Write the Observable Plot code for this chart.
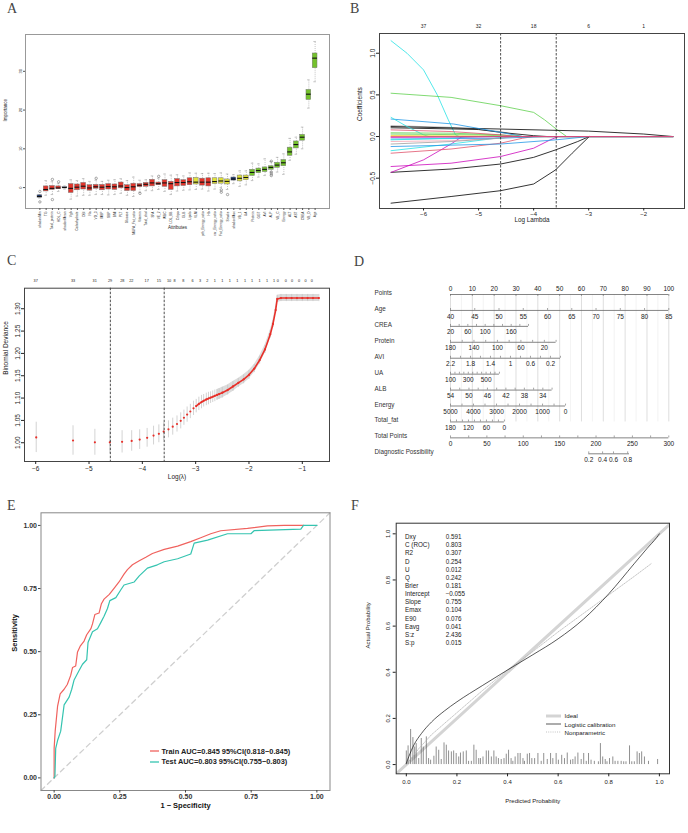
<!DOCTYPE html>
<html><head><meta charset="utf-8">
<script src="https://cdn.jsdelivr.net/npm/d3@7"></script>
<script src="https://cdn.jsdelivr.net/npm/@observablehq/plot@0.6"></script>
<style>
body{margin:0;width:688px;height:833px;position:relative;background:#fff;font-family:"Liberation Sans",Arial,sans-serif;overflow:hidden}
.p{position:absolute}
.lt{position:absolute;font-family:"Liberation Serif",serif;font-size:14px;color:#444;line-height:1}
.tbl{position:absolute;font-size:6.3px;color:#222;line-height:8.15px}
.tbl div{height:8.15px;white-space:nowrap}
.leg{position:absolute;white-space:nowrap}
</style></head><body>
<script>
// ---------- Panel A data (Boruta importance) ----------
const attrs = ["shadowMin","TG","Total_protein","HDL_C","shadowMean","Vgb","Carbohydrate","DBI","Na","VD_3","MBP","SBP","BMI","PLT","Glucose","MUFA_Fat_ratio","Vitamin","Total_chol","SFA","VE_2","WBC","LDL_BB","Crhpo","GLB","Lipids","VLM","pth_Energy_ratio","Hb","car_Energy_ratio","Fat_Energy_ratio","Smoke","shadowMax","VB_1","UA","Protein","GGT","AVI","ALP","VB_C","Energy","ALT","AST","CREA","VB_D","Age"];
const aDec = ["Shadow","Rejected","Rejected","Rejected","Shadow","Rejected","Rejected","Rejected","Rejected","Rejected","Rejected","Rejected","Rejected","Rejected","Rejected","Rejected","Rejected","Rejected","Rejected","Rejected","Rejected","Rejected","Rejected","Rejected","Rejected","Tentative","Rejected","Rejected","Tentative","Tentative","Tentative","Shadow","Tentative","Tentative","Confirmed","Confirmed","Confirmed","Confirmed","Confirmed","Confirmed","Confirmed","Confirmed","Confirmed","Confirmed","Confirmed"];
const aMed = [-2.3,-0.5,-0.2,-0.1,0,-0.2,0.1,0.35,-0.1,0.2,0.1,0.25,0.2,0.4,0,0.2,0.6,0.85,1.2,1.0,1.2,1.0,1.3,1.3,1.5,1.4,1.4,1.4,1.55,1.7,1.6,2.2,2.4,2.6,3.9,4.4,4.7,5.2,5.8,6.4,9.2,11.1,13.0,24.1,33.4];
const aQ1 = [-2.6,-1.0,-0.6,-0.4,-0.1,-1.4,-0.7,-0.5,-0.8,-0.3,-0.7,-0.5,-0.6,-0.2,-0.9,-0.9,0.1,0.2,0.3,0.6,0.2,-0.6,0.3,0.4,0.6,0.8,0.5,0.3,0.9,1.0,0.8,1.8,1.6,1.9,3.0,3.7,4.0,4.6,5.1,5.5,8.2,10.1,12.1,22.6,30.8];
const aQ3 = [-2.0,0.3,0.4,0.3,0.1,0.9,0.8,1.2,0.6,0.7,0.7,0.9,0.8,1.3,0.6,1.0,0.9,1.2,2.0,1.3,1.9,1.5,2.2,1.9,2.4,2.5,2.3,2.4,2.4,2.4,2.1,2.6,3.1,3.1,4.6,4.9,5.2,5.5,6.4,7.1,10.3,11.9,13.6,25.2,34.6];
const aLo = [-2.7,-2.0,-1.8,-1.0,-0.4,-3.0,-2.2,-2.0,-2.0,-1.8,-1.8,-1.9,-1.8,-1.5,-2.0,-2.3,-1.2,-0.8,-0.8,-0.5,-1.0,-1.8,-0.9,-0.7,-0.6,-0.5,-0.4,-0.9,-0.4,0,-0.5,1.0,0.3,0.7,1.8,2.7,3.1,4.0,4.0,3.4,7.0,8.6,10.0,20.5,27.3];
const aHi = [-1.8,1.8,1.5,1.0,0.4,2.0,1.8,2.3,1.6,1.9,1.6,1.9,2.0,2.3,1.8,2.7,1.9,2.0,3.0,2.4,3.5,3.2,3.3,3.0,3.8,3.7,3.6,3.7,3.6,3.8,3.5,3.3,4.3,4.3,6.3,6.1,7.4,6.7,7.8,8.7,12.7,13.0,15.6,27.8,37.7];
const aOutIdx = [1,1,3,3,4,10,17,20,30,30,31,38,38,38,38];
const aOutVal = [-1.0,-3.7,2.1,-3.1,1.5,2.4,-1.5,2.9,-0.6,-1.2,-1.8,6.8,4.0,3.5,3.1];
const decColor = {Confirmed:"#74c22c",Tentative:"#e0e23a",Rejected:"#e2352c",Shadow:"#1e3b78"};

// ---------- Panel B data (lasso coefficient paths) ----------
const bPaths = [
 {col:"#9E9E9E", pts:[[-6.59,0.13],[-5.5,0.11],[-4.6,0.06],[-4.2,0],[-1.47,0]]},
 {col:"#28E2E5", pts:[[-6.59,1.15],[-6.3,1.0],[-6.0,0.8],[-5.75,0.5],[-5.55,0.2],[-5.42,0.02],[-5.35,0],[-1.47,0]]},
 {col:"#61D04F", pts:[[-6.59,0.52],[-5.5,0.47],[-4.6,0.37],[-4.0,0.29],[-3.8,0.2],[-3.59,0.09],[-3.4,0],[-1.47,0]]},
 {col:"#000000", pts:[[-6.59,0.12],[-4.6,0.09],[-3.0,0.065],[-2.0,0.03],[-1.47,0]]},
 {col:"#000000", pts:[[-6.59,0.105],[-5.0,0.085],[-4.6,0.05],[-4.0,0.01],[-3.75,0],[-1.47,0]]},
 {col:"#2297E6", pts:[[-6.59,0.21],[-5.45,0.15],[-4.6,0.05],[-4.2,0],[-1.47,0]]},
 {col:"#28E2E5", pts:[[-6.59,0.23],[-6.3,0.12],[-6.0,0.02],[-5.9,0],[-1.47,0]]},
 {col:"#000000", pts:[[-6.59,-0.8],[-5.5,-0.72],[-4.6,-0.65],[-4.0,-0.57],[-3.6,-0.4],[-3.3,-0.2],[-2.99,0],[-1.47,0]]},
 {col:"#000000", pts:[[-6.59,-0.43],[-5.5,-0.39],[-4.6,-0.33],[-4.0,-0.25],[-3.6,-0.16],[-3.2,-0.06],[-2.99,0],[-1.47,0]]},
 {col:"#CD0BBC", pts:[[-6.59,-0.36],[-5.5,-0.32],[-4.6,-0.24],[-4.0,-0.14],[-3.7,-0.04],[-3.55,0],[-1.47,0]]},
 {col:"#CD0BBC", pts:[[-6.59,-0.43],[-6.0,-0.28],[-5.5,-0.09],[-5.3,0],[-1.47,0]]},
 {col:"#DF536B", pts:[[-6.59,-0.2],[-5.5,-0.15],[-4.6,-0.08],[-4.2,-0.02],[-4.0,0],[-1.47,0]]},
 {col:"#28E2E5", pts:[[-6.59,-0.17],[-5.5,-0.09],[-4.8,-0.03],[-4.5,0],[-1.47,0]]},
 {col:"#2297E6", pts:[[-6.59,-0.12],[-4.6,-0.09],[-3.6,-0.04],[-3.0,0],[-1.47,0]]},
 {col:"#61D04F", pts:[[-6.59,0.045],[-5.5,0.04],[-4.6,0.02],[-4.2,0],[-1.47,0]]},
 {col:"#61D04F", pts:[[-6.59,0.03],[-5.0,0.02],[-4.3,0],[-1.47,0]]},
 {col:"#F4A6B4", pts:[[-6.59,-0.06],[-5.5,-0.05],[-4.6,-0.02],[-4.3,0],[-1.47,0]]},
 {col:"#DF536B", pts:[[-6.59,0.08],[-5.5,0.06],[-4.6,0.02],[-4.3,0],[-1.47,0]]},
 {col:"#2297E6", pts:[[-6.59,-0.03],[-4.6,-0.02],[-3.8,0],[-1.47,0]]},
 {col:"#9E9E9E", pts:[[-6.59,-0.09],[-5.5,-0.06],[-4.6,-0.02],[-4.4,0],[-1.47,0]]},
 {col:"#F5C710", pts:[[-6.59,0.01],[-5.0,0.005],[-4.6,0],[-1.47,0]]},
 {col:"#28E2E5", pts:[[-6.59,-0.04],[-5.5,-0.02],[-5.0,0],[-1.47,0]]},
 {col:"#CD0BBC", pts:[[-6.59,-0.01],[-5.0,-0.005],[-4.6,0],[-1.47,0]]},
 {col:"#DF536B", pts:[[-6.59,0],[-1.47,0]]}
];
const bTopX = [-6,-5,-4,-3,-2];
const bTopN = ["37","32","18","6","1"];
const lambdaLines = [-4.6,-3.59];

// ---------- Panel C data (cv binomial deviance) ----------
const cvX = [-5.99,-5.30,-4.89,-4.61,-4.38,-4.20,-4.05,-3.91,-3.79,-3.69,-3.60,-3.51,-3.43,-3.35,-3.28,-3.22,-3.16,-3.10,-3.04,-2.99,-2.94,-2.89,-2.85,-2.80,-2.76,-2.72,-2.68,-2.64,-2.60,-2.56,-2.50,-2.40,-2.30,-2.20,-2.10,-2.00,-1.90,-1.80,-1.70,-1.60,-1.55,-1.50,-1.47,-1.40,-1.30,-1.20,-1.10,-1.00,-0.90,-0.80,-0.69];
const cvM = [1.012,1.005,1.001,1.001,1.002,1.004,1.007,1.011,1.016,1.020,1.025,1.030,1.036,1.042,1.049,1.056,1.063,1.070,1.077,1.082,1.087,1.091,1.094,1.097,1.099,1.101,1.103,1.105,1.107,1.109,1.112,1.118,1.126,1.134,1.142,1.152,1.166,1.185,1.209,1.243,1.266,1.297,1.322,1.324,1.324,1.324,1.324,1.324,1.324,1.324,1.324];
const cvS = [0.034,0.033,0.029,0.026,0.025,0.023,0.022,0.021,0.021,0.020,0.020,0.019,0.019,0.018,0.018,0.017,0.017,0.016,0.016,0.015,0.015,0.015,0.014,0.014,0.014,0.013,0.013,0.013,0.012,0.012,0.012,0.011,0.011,0.010,0.010,0.010,0.009,0.009,0.009,0.009,0.008,0.008,0.008,0.008,0.008,0.008,0.008,0.008,0.008,0.008,0.008];
const cTopX = [-6,-5.3,-4.894,-4.606,-4.375,-4.206,-3.919,-3.688,-3.5,-3.394,-3.231,-3.056,-2.919,-2.78,-2.64,-2.5,-2.36,-2.22,-2.075,-1.94,-1.8,-1.66,-1.53,-1.46,-1.31,-1.19,-1.06,-0.94,-0.82];
const cTopN = ["37","33","31","29","28","22","17","15","10","8","8","6","3","2","1","1","1","1","1","1","1","1","1","0","0","0","0","0","0"];

// ---------- Panel D data (nomogram) ----------
const nomo = [
 {name:"Points", ticks:[0,10,20,30,40,50,60,70,80,90,100], labels:[0,10,20,30,40,50,60,70,80,90,100], v0:0,p0:0,v1:100,p1:100, above:true},
 {name:"Age", ticks:[40,45,50,55,60,65,70,75,80,85], labels:[40,45,50,55,60,65,70,75,80,85], v0:40,p0:0,v1:85,p1:100},
 {name:"CREA", ticks:[20,40,60,80,100,120,140,160,180,200], labels:[20,60,100,160], v0:20,p0:0,v1:160,p1:27.8},
 {name:"Protein", ticks:[180,160,140,120,100,80,60,40,20,0], labels:[180,140,100,60,20], v0:180,p0:0,v1:20,p1:43.0},
 {name:"AVI", ticks:[2.2,2,1.8,1.6,1.4,1.2,1,0.8,0.6,0.4,0.2,0], labels:[2.2,1.8,1.4,1,0.6,0.2], v0:2.2,p0:0,v1:0.2,p1:45.8},
 {name:"UA", ticks:[100,150,200,250,300,350,400,450,500,550,600,650], labels:[100,300,500], v0:100,p0:0,v1:500,p1:16.3},
 {name:"ALB", ticks:[54,52,50,48,46,44,42,40,38,36,34,32], labels:[54,50,46,42,38,34], v0:54,p0:0,v1:34,p1:42.3},
 {name:"Energy", ticks:[5000,4500,4000,3500,3000,2500,2000,1500,1000,500,0], labels:[5000,4000,3000,2000,1000,0], v0:5000,p0:0,v1:0,p1:52.7},
 {name:"Total_fat", ticks:[180,160,140,120,100,80,60,40,20,0], labels:[180,120,60,0], v0:180,p0:0,v1:0,p1:24.7},
 {name:"Total Points", ticks:[0,25,50,75,100,125,150,175,200,225,250,275,300], labels:[0,50,100,150,200,250,300], v0:0,p0:0,v1:300,p1:100}
];
const diagProb = ["0.2","0.4","0.6","0.8"];
const diagTotal = [190,209,224,243.5];
const diagEnd = [190,246];

// ---------- Panel E data (ROC) ----------
const trainFPR = [0,0,0.004,0.013,0.023,0.038,0.05,0.063,0.07,0.082,0.089,0.1,0.114,0.124,0.14,0.146,0.155,0.171,0.18,0.19,0.21,0.228,0.247,0.266,0.279,0.298,0.324,0.349,0.374,0.419,0.47,0.52,0.558,0.596,0.634,0.736,0.812,0.876,0.95];
const trainTPR = [0,0.117,0.185,0.283,0.333,0.351,0.37,0.406,0.437,0.443,0.499,0.523,0.542,0.567,0.591,0.61,0.647,0.653,0.69,0.708,0.727,0.751,0.776,0.807,0.825,0.844,0.86,0.874,0.889,0.905,0.918,0.936,0.951,0.967,0.979,0.988,0.998,1,1];
const testFPR = [0,0.003,0.006,0.013,0.025,0.038,0.057,0.067,0.076,0.095,0.108,0.124,0.129,0.146,0.165,0.178,0.19,0.203,0.212,0.235,0.254,0.266,0.305,0.324,0.355,0.393,0.419,0.47,0.52,0.533,0.584,0.66,0.749,0.761,0.939,0.949,1];
const testTPR = [0,0.006,0.117,0.148,0.185,0.289,0.32,0.351,0.388,0.425,0.45,0.468,0.536,0.579,0.591,0.616,0.64,0.671,0.702,0.714,0.745,0.764,0.776,0.8,0.831,0.844,0.856,0.868,0.887,0.93,0.942,0.967,0.967,0.979,0.985,1.0,1.0];
const rocNames = ["Train AUC=0.845 95%CI(0.818\u22120.845)","Test AUC=0.803 95%CI(0.755\u22120.803)"];
const rocColors = ["#f0625e","#35c4b0"];

// ---------- Panel F data (calibration) ----------
const calStatNames = ["Dxy","C (ROC)","R2","D","U","Q","Brier","Intercept","Slope","Emax","E90","Eavg","S:z","S:p"];
const calStatVals = ["0.591","0.803","0.307","0.254","0.012","0.242","0.181","\u22120.055","0.755","0.104","0.076","0.041","2.436","0.015"];
const logX = [0,0.01,0.03,0.06,0.1,0.15,0.2,0.3,0.4,0.5,0.6,0.7,0.8,0.9,0.95,0.99,1.0];
const logY = [0.005,0.035,0.085,0.135,0.185,0.232,0.272,0.342,0.41,0.476,0.545,0.63,0.74,0.87,0.935,0.985,1.0];
const npX = [0,0.05,0.1,0.2,0.3,0.4,0.5,0.6,0.7,0.8,0.9,0.967];
const npY = [0.0,0.07,0.13,0.225,0.32,0.41,0.49,0.575,0.655,0.735,0.815,0.87];
const spikeX = [0,0.007,0.017,0.026,0.033,0.039,0.049,0.059,0.067,0.079,0.088,0.096,0.109,0.118,0.128,0.138,0.149,0.158,0.167,0.178,0.187,0.197,0.207,0.214,0.225,0.237,0.246,0.257,0.267,0.276,0.286,0.293,0.303,0.316,0.325,0.336,0.346,0.355,0.364,0.375,0.386,0.395,0.404,0.414,0.421,0.43,0.441,0.45,0.461,0.467,0.478,0.487,0.496,0.507,0.52,0.533,0.543,0.557,0.57,0.579,0.592,0.601,0.614,0.625,0.636,0.649,0.658,0.667,0.678,0.691,0.701,0.711,0.72,0.73,0.743,0.759,0.767,0.776,0.786,0.793,0.803,0.816,0.825,0.836,0.849,0.859,0.868,0.882,0.891,0.901,0.912,0.921,0.93,0.941,0.957,0.993];
const spikeH = [0.059,0.081,0.152,0.117,0.076,0.091,0.026,0.113,0.076,0.12,0.026,0.019,0.036,0.076,0.062,0.022,0.094,0.084,0.059,0.055,0.059,0.048,0.033,0.05,0.055,0.059,0.014,0.014,0.084,0.062,0.026,0.026,0.033,0.059,0.059,0.033,0.059,0.033,0.026,0.022,0.026,0.045,0.062,0.026,0.014,0.033,0.048,0.048,0.026,0.014,0.045,0.048,0.026,0.026,0.048,0.014,0.048,0.022,0.048,0.026,0.048,0.019,0.04,0.026,0.05,0.019,0.022,0.033,0.05,0.022,0.048,0.014,0.048,0.019,0.014,0.012,0.091,0.033,0.022,0.012,0.026,0.033,0.014,0.014,0.014,0.012,0.012,0.081,0.012,0.012,0.055,0.048,0.055,0.033,0.014,0.022];
const calLegend = ["Ideal","Logistic calibration","Nonparametric"];

// ---------- helpers ----------
function place(node, left, top) {
  const d = document.createElement("div");
  d.className = "p"; d.style.left = left + "px"; d.style.top = top + "px";
  d.appendChild(node); document.body.appendChild(d); return d;
}
function html(cls, left, top, inner) {
  const d = document.createElement("div"); d.className = cls;
  d.style.left = left + "px"; d.style.top = top + "px"; d.innerHTML = inner;
  document.body.appendChild(d); return d;
}
const baseStyle = {fontFamily: "Liberation Sans, Arial, sans-serif", background: "none", color: "#222", overflow: "visible"};
const minus = d => (d < 0 ? "\u2212" : "") + Math.abs(d);

// ---------- Panel A ----------
const aRows = attrs.map((n, k) => ({i: k + 1, n, med: aMed[k], q1: aQ1[k], q3: aQ3[k], lo: aLo[k], hi: aHi[k], c: decColor[aDec[k]]}));
const aOut = aOutIdx.map((i, k) => ({i, v: aOutVal[k]}));
place(Plot.plot({
  width: 344, height: 240, marginLeft: 25, marginRight: 15, marginTop: 34, marginBottom: 32,
  x: {domain: [-1.3, 47.3], label: null}, y: {domain: [-5.4, 39.5], label: null},
  color: {type: "identity"},
  style: {...baseStyle, fontSize: "4px"},
  marks: [
    Plot.ruleX(aRows, {x: "i", y1: "q3", y2: "hi", stroke: "#888", strokeWidth: 0.5, strokeDasharray: "1,1"}),
    Plot.ruleX(aRows, {x: "i", y1: "lo", y2: "q1", stroke: "#888", strokeWidth: 0.5, strokeDasharray: "1,1"}),
    Plot.ruleY(aRows, {y: "hi", x1: d => d.i - 0.2, x2: d => d.i + 0.2, stroke: "#888", strokeWidth: 0.5}),
    Plot.ruleY(aRows, {y: "lo", x1: d => d.i - 0.2, x2: d => d.i + 0.2, stroke: "#888", strokeWidth: 0.5}),
    Plot.rect(aRows, {x1: d => d.i - 0.38, x2: d => d.i + 0.38, y1: "q1", y2: "q3", fill: "c", stroke: "#777", strokeWidth: 0.5}),
    Plot.ruleY(aRows, {y: "med", x1: d => d.i - 0.38, x2: d => d.i + 0.38, stroke: "#111", strokeWidth: 1.1}),
    Plot.dot(aOut, {x: "i", y: "v", r: 1.2, stroke: "#555", strokeWidth: 0.5}),
    Plot.frame({stroke: "#999"}),
    Plot.axisY({ticks: [0, 10, 20, 30], tickSize: 2, tickPadding: 2, tickRotate: -90, fontSize: 4, stroke: "#555"}),
    Plot.axisX({ticks: attrs.map((n, k) => k + 1), tickFormat: i => attrs[i - 1], tickSize: 2, tickPadding: 1, tickRotate: -90, fontSize: 3.2, stroke: "#555"}),
    Plot.text(["Attributes"], {frameAnchor: "bottom", dy: 20, fontSize: 4.5}),
    Plot.text(["Importance"], {frameAnchor: "left", dx: -20, rotate: -90, fontSize: 4.5})
  ]
}), 0, 0);

// ---------- Panel B ----------
const bLong = bPaths.flatMap((p, k) => p.pts.map(([x, y]) => ({k, x, y, c: p.col})));
place(Plot.plot({
  width: 344, height: 240, marginLeft: 35, marginRight: 4, marginTop: 33, marginBottom: 32,
  x: {domain: [-6.8, -1.26], label: null}, y: {domain: [-0.864, 1.237], label: null},
  color: {type: "identity"},
  style: {...baseStyle, fontSize: "6px"},
  marks: [
    Plot.line(bLong, {x: "x", y: "y", z: "k", stroke: "c", strokeWidth: 0.8}),
    Plot.ruleX(lambdaLines, {stroke: "#222", strokeWidth: 0.8, strokeDasharray: "2.5,1.5"}),
    Plot.frame({stroke: "#444"}),
    Plot.axisX({ticks: bTopX, tickSize: 2.5, tickPadding: 1, fontSize: 6, tickFormat: minus}),
    Plot.axisX({anchor: "top", ticks: bTopX, tickSize: 0, tickPadding: 6, fontSize: 5, tickFormat: d => bTopN[bTopX.indexOf(d)]}),
    Plot.axisY({ticks: [-0.5, 0, 0.5, 1.0], tickSize: 3, tickPadding: 2, tickRotate: -90, fontSize: 6.5, tickFormat: d => (d < 0 ? "\u2212" : "") + Math.abs(d).toFixed(1)}),
    Plot.text(["Log Lambda"], {frameAnchor: "bottom", dy: 13.5, fontSize: 6.3}),
    Plot.text(["Coefficients"], {frameAnchor: "left", dx: -20, rotate: -90, fontSize: 6.5})
  ]
}), 344, 0);

// ---------- Panel C ----------
const cRows = cvX.map((x, k) => ({x, m: cvM[k], s: cvS[k]}));
place(Plot.plot({
  width: 344, height: 240, marginLeft: 24, marginRight: 15, marginTop: 47.7, marginBottom: 19,
  x: {domain: [-6.21, -0.49], label: null}, y: {domain: [0.958, 1.346], label: null},
  style: {...baseStyle, fontSize: "6.5px"},
  marks: [
    Plot.areaY(cRows.filter(d => d.x >= -2.6), {x: "x", y1: d => d.m - d.s, y2: d => d.m + d.s, fill: "#dcdcdc"}),
    Plot.ruleX(cRows, {x: "x", y1: d => d.m - d.s, y2: d => d.m + d.s, stroke: "#c8c8c8", strokeWidth: 0.8}),
    Plot.line(cRows.filter(d => d.x >= -3.0), {x: "x", y: "m", stroke: "#e8302a", strokeWidth: 1.6}),
    Plot.dot(cRows, {x: "x", y: "m", r: 1.1, fill: "#e8302a"}),
    Plot.ruleX(lambdaLines, {stroke: "#222", strokeWidth: 0.8, strokeDasharray: "2.5,1.5"}),
    Plot.frame({stroke: "#444"}),
    Plot.axisX({ticks: [-6, -5, -4, -3, -2, -1], tickSize: 3, tickPadding: 2, fontSize: 6.5, tickFormat: minus}),
    Plot.axisX({anchor: "top", ticks: cTopX, tickSize: 0, tickPadding: 6, fontSize: 3.8, tickFormat: d => cTopN[cTopX.indexOf(d)]}),
    Plot.axisY({ticks: [1.00, 1.05, 1.10, 1.15, 1.20, 1.25, 1.30], tickSize: 3, tickPadding: 2, tickRotate: -90, fontSize: 6.5, tickFormat: d => d.toFixed(2)}),
    Plot.text(["Log(\u03bb)"], {frameAnchor: "bottom", dy: 17, fontSize: 6.5}),
    Plot.text(["Binomial Deviance"], {frameAnchor: "left", dx: -19, rotate: -90, fontSize: 6.5})
  ]
}), 0, 240);

// ---------- Panel D ----------
const toPts = (r, v) => r.p0 + (v - r.v0) * (r.p1 - r.p0) / (r.v1 - r.v0);
const dSeg = nomo.map((r, k) => ({row: k, a: toPts(r, r.ticks[0]), b: toPts(r, r.ticks[r.ticks.length - 1])}));
dSeg.push({row: 10, a: diagEnd[0] / 3, b: diagEnd[1] / 3});
const dTicks = nomo.flatMap((r, k) => r.ticks.map(v => ({row: k, p: toPts(r, v), up: !r.above})));
diagTotal.forEach(t => dTicks.push({row: 10, p: t / 3, up: true}));
const dLabels = nomo.flatMap((r, k) => r.labels.map(v => ({row: k, p: toPts(r, v), t: String(v), above: !!r.above})));
diagProb.forEach((t, j) => dLabels.push({row: 10, p: diagTotal[j] / 3, t, above: false}));
const gridMajor = nomo[0].ticks;
const gridMinor = gridMajor.filter(g => g < 100).map(g => g + 5);
const rowNames = nomo.map(r => r.name).concat(["Diagnostic Possibility"]);
place(Plot.plot({
  width: 344, height: 240, marginLeft: 106, marginRight: 19.7, marginTop: 54, marginBottom: 26.7,
  x: {domain: [0, 100], axis: null}, y: {domain: [0, 10], reverse: true, axis: null},
  style: {...baseStyle, fontSize: "6.5px"},
  marks: [
    Plot.ruleX(gridMinor, {x: d => d, y1: 0, y2: 8, stroke: "#eeeeee", strokeWidth: 0.7}),
    Plot.ruleX(gridMajor, {x: d => d, y1: 0, y2: 8, stroke: "#d0d0d0", strokeWidth: 0.7}),
    Plot.ruleY(dSeg, {y: "row", x1: "a", x2: "b", stroke: "#666", strokeWidth: 0.8}),
    Plot.ruleX(dTicks, {x: "p", y1: "row", y2: d => d.up ? d.row - 0.12 : d.row + 0.12, stroke: "#666", strokeWidth: 0.6}),
    Plot.text(dLabels, {x: "p", y: "row", text: "t", fill: "#222", fontSize: 6.5, filter: d => d.above, dy: -6}),
    Plot.text(dLabels, {x: "p", y: "row", text: "t", fill: "#222", fontSize: 6.5, filter: d => !d.above, dy: 6}),
    Plot.text(rowNames, {x: 0, y: (d, i) => i, dx: -76, dy: -1.5, textAnchor: "start", fill: "#333", fontSize: 6.3})
  ]
}), 344, 240);

// ---------- Panel E ----------
const rocRows = [
  ...trainFPR.map((x, k) => ({g: 0, x, y: trainTPR[k]})),
  ...testFPR.map((x, k) => ({g: 1, x, y: testTPR[k]}))
];
const eDomain = [-0.05, 1.05];
place(Plot.plot({
  width: 344, height: 353, marginLeft: 40.5, marginRight: 14.5, marginTop: 32.3, marginBottom: 43,
  x: {domain: eDomain, label: null}, y: {domain: eDomain, label: null},
  style: {...baseStyle, fontSize: "7px"},
  marks: [
    Plot.line(eDomain.map(v => ({x: v, y: v})), {x: "x", y: "y", stroke: "#cfcfcf", strokeWidth: 1.3, strokeDasharray: "5,4"}),
    Plot.line(rocRows, {x: "x", y: "y", z: "g", stroke: d => rocColors[d.g], strokeWidth: 1.2}),
    Plot.frame({stroke: "#888"}),
    Plot.axisX({ticks: [0, 0.25, 0.5, 0.75, 1], tickFormat: d => d.toFixed(2), tickSize: 2.5, tickPadding: 1.5, fontSize: 7, fontWeight: "bold", fill: "#333", stroke: "#444"}),
    Plot.axisY({ticks: [0, 0.25, 0.5, 0.75, 1], tickFormat: d => d.toFixed(2), tickSize: 2.5, tickPadding: 1.5, fontSize: 7, fontWeight: "bold", fill: "#333", stroke: "#444"}),
    Plot.text(["1 \u2212 Specificity"], {frameAnchor: "bottom", dy: 17, fontSize: 7.5, fontWeight: "bold", fill: "#111"}),
    Plot.text(["Sensitivity"], {frameAnchor: "left", dx: -26, rotate: -90, fontSize: 7.5, fontWeight: "bold", fill: "#111"})
  ]
}), 0, 480);
rocNames.forEach((t, k) => html("leg", 149.5, 741.5 + k * 10.3,
  `<svg width="10" height="8" style="vertical-align:middle"><line x1="0" x2="9" y1="4" y2="4" stroke="${rocColors[k]}" stroke-width="1.3"/></svg><span style="font-size:7.4px;font-weight:bold;color:#222;margin-left:2px;vertical-align:middle">${t}</span>`));

// ---------- Panel F ----------
const fDom = [-0.04, 1.045];
const spikes = spikeX.map((x, k) => ({x, h: spikeH[k]}));
place(Plot.plot({
  width: 344, height: 353, marginLeft: 51.7, marginRight: 19, marginTop: 42.7, marginBottom: 59.7,
  x: {domain: [-0.04, 1.04], label: null}, y: {domain: [-0.04, 1.046], label: null},
  style: {...baseStyle, fontSize: "6px"},
  marks: [
    Plot.line(fDom.map(v => ({x: v, y: v})), {x: "x", y: "y", stroke: "#d4d4d4", strokeWidth: 3, clip: true}),
    Plot.ruleX(spikes, {x: "x", y1: 0, y2: "h", stroke: "#444", strokeWidth: 0.6}),
    Plot.line(npX.map((x, k) => ({x, y: npY[k]})), {x: "x", y: "y", stroke: "#aaa", strokeWidth: 0.7, strokeDasharray: "1,1.2"}),
    Plot.line(logX.map((x, k) => ({x, y: logY[k]})), {x: "x", y: "y", stroke: "#111", strokeWidth: 0.7, curve: "monotone-x"}),
    Plot.frame({stroke: "#333"}),
    Plot.axisX({ticks: [0, 0.2, 0.4, 0.6, 0.8, 1], tickFormat: d => d.toFixed(1), tickSize: 3, tickPadding: 3, fontSize: 6}),
    Plot.axisY({ticks: [0, 0.2, 0.4, 0.6, 0.8, 1], tickFormat: d => d.toFixed(1), tickSize: 3, tickPadding: 3, tickRotate: -90, fontSize: 6}),
    Plot.text(["Predicted Probability"], {frameAnchor: "bottom", dy: 29, fontSize: 6}),
    Plot.text(["Actual Probability"], {frameAnchor: "left", dx: -28, rotate: -90, fontSize: 6})
  ]
}), 344, 480);
html("tbl", 405, 533.2, calStatNames.map(n => `<div>${n}</div>`).join(""));
html("tbl", 445.7, 533.2, calStatVals.map(n => `<div>${n}</div>`).join(""));
const calLegStyle = [["#d4d4d4", 3, ""], ["#111", 0.7, ""], ["#aaa", 0.7, "1,1.2"]];
calLegend.forEach((t, k) => html("leg", 545.5, 706 + k * 8.35,
  `<svg width="16" height="8" style="vertical-align:middle"><line x1="0" x2="15" y1="4" y2="4" stroke="${calLegStyle[k][0]}" stroke-width="${calLegStyle[k][1]}" stroke-dasharray="${calLegStyle[k][2]}"/></svg><span style="font-size:6.2px;color:#222;margin-left:3px;vertical-align:middle">${t}</span>`));

// ---------- panel letters ----------
[["A", 7, 2], ["B", 350, 2], ["C", 7, 254], ["D", 354, 255], ["E", 7, 499], ["F", 351, 499]].forEach(([t, x, y]) => html("lt", x, y, t));
</script></body></html>
